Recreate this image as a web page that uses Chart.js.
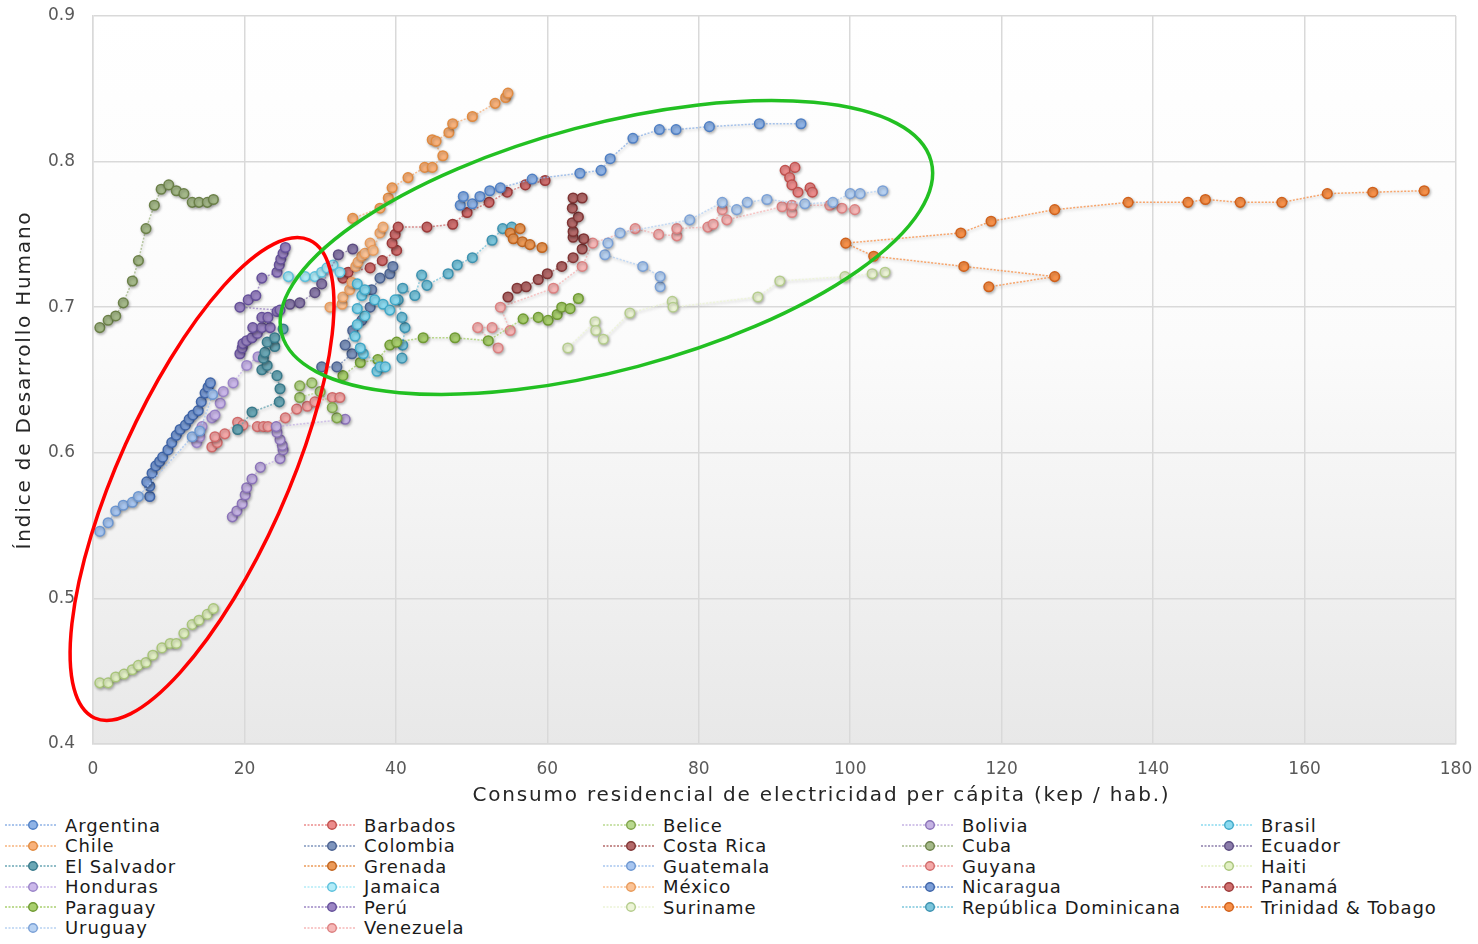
<!DOCTYPE html>
<html>
<head>
<meta charset="utf-8">
<script src="https://cdn.jsdelivr.net/npm/chart.js@4.4.1/dist/chart.umd.min.js"></script>
<style>
  html,body{margin:0;padding:0;background:#fff;}
  #wrap{position:relative;width:1478px;height:944px;overflow:hidden;font-family:"DejaVu Sans",sans-serif;}
  #c{position:absolute;left:0;top:0;}
  #legend{position:absolute;left:5px;top:815px;display:grid;grid-template-columns:repeat(5,299px);grid-auto-rows:20.5px;}
  .lg-item{display:flex;align-items:center;font-size:18px;letter-spacing:0.9px;color:#1a1a1a;white-space:nowrap;}
  .lg-item svg{margin-right:8px;flex:none;}
</style>
</head>
<body>
<div id="wrap">
  <canvas id="c" width="1478" height="810"></canvas>
  <div id="legend"></div>
</div>
<script>
// ---- data (x: kep / hab., y: IDH) ----
const countries = ['Argentina','Barbados','Belice','Bolivia','Brasil','Chile','Colombia','Costa Rica','Cuba','Ecuador',
  'El Salvador','Grenada','Guatemala','Guyana','Haiti','Honduras','Jamaica','México','Nicaragua','Panamá',
  'Paraguay','Perú','Suriname','República Dominicana','Trinidad & Tobago','Uruguay','Venezuela'];

const xTicks = [0,20,40,60,80,100,120,140,160,180];
const yTicks = [0.4,0.5,0.6,0.7,0.8,0.9];
const xTitle = 'Consumo residencial de electricidad per cápita (kep / hab.)';
const yTitle = 'Índice de Desarrollo Humano';

const argentina = [[48.5,0.770],[48.9,0.776],[50.1,0.771],[51.1,0.776],[52.4,0.780],[53.8,0.782],[58.0,0.788],[64.3,0.792],
  [67.1,0.794],[68.3,0.802],[71.3,0.816],[74.8,0.822],[77.0,0.822],[81.4,0.824],[88.0,0.826],[93.5,0.826]];
const barbados = [[91.4,0.794],[92.7,0.796],[92.0,0.789],[92.3,0.784],[93.1,0.779],[94.7,0.782],[95.0,0.779]];
const belice = [[32.2,0.624],[31.6,0.631],[30.0,0.642],[27.3,0.638],[27.3,0.646],[28.9,0.648]];
const bolivia = [[18.4,0.556],[19.0,0.560],[19.7,0.565],[20.1,0.571],[20.3,0.576],[21.0,0.582],[22.1,0.590],[24.7,0.596],
  [25.1,0.602],[25.0,0.605],[24.7,0.609],[24.3,0.614],[24.2,0.618],[33.3,0.623]];
const brasil = [[37.5,0.656],[37.9,0.659],[38.6,0.659],[35.7,0.668],[35.3,0.672],[34.6,0.680],[34.9,0.688],[35.9,0.694],
  [34.9,0.699],[35.5,0.708],[34.9,0.716],[35.9,0.712],[37.2,0.705],[38.3,0.702],[39.2,0.698],[39.9,0.705]];
const chile = [[34.3,0.761],[37.9,0.768],[39.0,0.775],[39.5,0.782],[41.6,0.789],[43.8,0.796],[44.8,0.796],[46.2,0.804],
  [44.8,0.815],[45.3,0.814],[47.0,0.820],[47.5,0.826],[50.1,0.831],[53.1,0.840],[54.5,0.844],[54.8,0.847]];
const colombia = [[30.2,0.659],[32.2,0.659],[34.2,0.668],[33.3,0.674],[34.3,0.684],[35.5,0.691],[36.6,0.700],[36.8,0.712],
  [37.9,0.720],[39.2,0.723],[39.6,0.728]];
const costaRica = [[54.8,0.707],[56.0,0.713],[57.2,0.714],[58.8,0.719],[60.0,0.723],[61.9,0.728],[63.4,0.734],[64.6,0.740],
  [64.8,0.747],[63.4,0.748],[63.4,0.752],[63.3,0.758],[64.1,0.762],[63.3,0.768],[63.4,0.775],[64.6,0.775]];
const cuba = [[0.9,0.686],[2.0,0.691],[3.0,0.694],[4.0,0.703],[5.2,0.718],[6.0,0.732],[7.0,0.754],[8.1,0.770],
  [9.0,0.781],[10.0,0.784],[11.0,0.780],[12.0,0.778],[13.1,0.772],[14.0,0.772],[15.1,0.772],[15.9,0.774]];
const ecuador = [[26.0,0.702],[27.3,0.703],[29.3,0.710],[30.2,0.716],[32.4,0.736],[34.3,0.740]];
const elSalvador = [[19.1,0.616],[21.0,0.628],[24.6,0.635],[24.7,0.644],[24.3,0.653],[22.3,0.657],[23.0,0.660],[22.5,0.665],
  [22.7,0.669],[24.0,0.673],[23.0,0.676],[24.0,0.679],[25.1,0.685]];
const grenada = [[55.1,0.751],[56.4,0.754],[55.5,0.747],[56.7,0.745],[57.7,0.743],[59.3,0.741]];
const guatemala = [[0.9,0.546],[2.0,0.552],[3.0,0.560],[4.0,0.564],[5.2,0.566],[6.0,0.570],[13.1,0.611],[14.1,0.615],[15.8,0.640]];
const guyana = [[15.7,0.604],[16.4,0.607],[16.1,0.611],[17.4,0.613],[19.1,0.621],[19.8,0.619],[21.7,0.618],[22.5,0.618],
  [23.1,0.618],[25.4,0.624],[26.9,0.630],[28.3,0.632],[29.3,0.635],[31.6,0.638],[32.6,0.638]];
const haiti = [[0.9,0.442],[2.0,0.442],[3.0,0.446],[4.1,0.448],[5.2,0.451],[6.0,0.454],[7.0,0.456],[7.9,0.461],
  [9.1,0.466],[10.2,0.469],[11.0,0.469],[12.0,0.476],[13.1,0.482],[14.0,0.485],[15.1,0.489],[15.9,0.493]];
const honduras = [[13.7,0.607],[14.1,0.611],[14.4,0.618],[15.7,0.624],[16.1,0.626],[16.8,0.634],[17.2,0.642],[18.5,0.648],
  [20.3,0.660],[21.8,0.666]];
const jamaica = [[25.8,0.721],[28.0,0.721],[29.3,0.721],[30.2,0.724],[30.9,0.727],[31.7,0.729],[32.6,0.724]];
const mexico = [[31.3,0.700],[32.9,0.702],[33.0,0.707],[33.9,0.712],[34.2,0.717],[34.7,0.728],[35.0,0.731],[35.5,0.735],
  [35.9,0.737],[36.6,0.744],[37.0,0.739],[37.9,0.751],[38.3,0.755]];
const nicaragua = [[7.5,0.570],[7.5,0.577],[7.1,0.580],[7.8,0.586],[8.3,0.591],[8.8,0.594],[9.2,0.597],[9.9,0.602],
  [10.4,0.607],[11.0,0.612],[11.5,0.616],[12.2,0.619],[12.7,0.623],[13.2,0.626],[13.9,0.629],[14.3,0.635],
  [14.8,0.641],[15.2,0.645],[15.5,0.648]];
const panama = [[33.0,0.720],[33.7,0.724],[36.6,0.727],[38.2,0.732],[40.1,0.739],[39.5,0.744],[39.9,0.750],[40.3,0.755],
  [44.1,0.755],[47.5,0.757],[49.4,0.765],[52.3,0.772],[54.7,0.779],[57.1,0.784],[59.7,0.787]];
const paraguay = [[33.0,0.653],[35.3,0.662],[37.6,0.664],[39.2,0.674],[40.1,0.676],[43.6,0.679],[47.8,0.679],[52.2,0.677],
  [56.8,0.692],[58.8,0.693],[60.1,0.691],[61.3,0.695],[61.9,0.700],[63.0,0.699],[64.1,0.706]];
const peru = [[19.4,0.668],[19.7,0.672],[19.8,0.675],[20.3,0.677],[21.0,0.679],[21.7,0.682],[21.1,0.686],[22.3,0.686],
  [23.4,0.686],[22.3,0.693],[23.1,0.693],[24.3,0.697],[24.7,0.698],[19.4,0.700],[20.5,0.705],[21.5,0.708],
  [22.3,0.720],[24.3,0.724],[24.6,0.729],[24.8,0.733],[25.1,0.737],[25.4,0.741]];
const suriname = [[62.7,0.672],[66.3,0.690],[66.4,0.684],[67.4,0.678],[70.9,0.696],[76.5,0.704],[76.6,0.700],
  [87.8,0.707],[90.7,0.718],[99.3,0.721],[102.9,0.723],[104.6,0.724]];
const repDominicana = [[40.8,0.665],[40.9,0.674],[41.2,0.686],[40.8,0.693],[40.3,0.705],[40.9,0.713],[42.5,0.708],[43.4,0.722],
  [44.1,0.715],[46.9,0.723],[48.1,0.729],[50.1,0.734],[52.7,0.746],[54.1,0.754],[55.3,0.755]];
const trinidad = [[118.3,0.714],[127.0,0.721],[115.0,0.728],[103.1,0.735],[99.4,0.744],[114.6,0.751],[118.6,0.759],[127.0,0.767],
  [136.7,0.772],[144.6,0.772],[146.9,0.774],[151.5,0.772],[157.0,0.772],[163.0,0.778],[169.0,0.779],[175.8,0.780]];
const uruguay = [[74.9,0.714],[74.9,0.721],[72.6,0.728],[67.6,0.736],[68.0,0.744],[69.6,0.751],[78.8,0.760],[83.1,0.772],
  [85.0,0.767],[86.4,0.772],[89.0,0.774],[94.0,0.771],[97.7,0.772],[100.0,0.778],[101.3,0.778],[104.3,0.780]];
const venezuela = [[53.5,0.672],[50.8,0.686],[52.7,0.686],[55.1,0.684],[53.8,0.700],[60.8,0.713],[64.6,0.728],[66.0,0.744],
  [71.6,0.754],[74.7,0.750],[77.1,0.749],[77.1,0.754],[81.2,0.755],[81.9,0.757],[83.1,0.767],[83.7,0.760],
  [91.0,0.769],[92.3,0.765],[92.3,0.770],[97.3,0.770],[98.9,0.768],[100.6,0.767]];

const seriesData = [argentina, barbados, belice, bolivia, brasil, chile, colombia, costaRica, cuba, ecuador,
  elSalvador, grenada, guatemala, guyana, haiti, honduras, jamaica, mexico, nicaragua, panama,
  paraguay, peru, suriname, repDominicana, trinidad, uruguay, venezuela];

// fill / border per series, same order as countries
const fills = ['#8fb3e6','#ec8c8c','#b9d98f','#c5b3e3','#8bdaf0','#f8b27c','#7f95bd','#b46a6a','#a5b98a','#8c7dab',
  '#6ba7b5','#ec9a58','#a8c6f0','#f4a8a8','#e2f0c4','#cbb8ea','#b2ecf8','#fbc396','#7d9fd8','#d07070',
  '#a9cf6f','#9c86c4','#ecf4d6','#7cc6dc','#f7914a','#b8d2f2','#f6b8b8'];
const borders = ['#4f7fc4','#c0504d','#7fa34a','#8a72b8','#3fa8c8','#e08a40','#4a6190','#7f3434','#6b8048','#5c4c80',
  '#37798a','#c0641e','#6c96d0','#d06a6a','#a8c47a','#9a84c8','#5cc0dc','#e89a5a','#3e64a8','#9c3a3a',
  '#6f9a32','#65509a','#b4cc8c','#3c92b0','#d0601a','#7aa0d6','#dc8080'];

// annotation ellipses (centre in data units, radii in px)
const ellipses = [
  {cx:14.4, cy:0.582, rx:262, ry:84, angle:-65.8, color:'#ff0000'},
  {cx:67.8, cy:0.741, rx:336, ry:123, angle:-14.9, color:'#22c022'}
];

const FONT = '"DejaVu Sans", sans-serif';

const bgPlugin = {
  id:'plotBg',
  beforeDraw(chart){
    const {ctx, chartArea:a} = chart;
    const g = ctx.createLinearGradient(0, a.top, 0, a.bottom);
    g.addColorStop(0, '#ffffff');
    g.addColorStop(0.45, '#fbfbfb');
    g.addColorStop(1, '#e8e8e8');
    ctx.save();
    ctx.fillStyle = g;
    ctx.fillRect(a.left, a.top, a.right - a.left, a.bottom - a.top);
    ctx.restore();
  }
};

const shadowPlugin = {
  id:'markShadow',
  beforeDatasetsDraw(chart){
    const ctx = chart.ctx;
    ctx.save();
    ctx.shadowColor = 'rgba(0,0,0,0.28)';
    ctx.shadowBlur = 3;
    ctx.shadowOffsetX = 1;
    ctx.shadowOffsetY = 1.5;
  },
  afterDatasetsDraw(chart){
    chart.ctx.restore();
  }
};

const ellipsePlugin = {
  id:'ellipses',
  afterDatasetsDraw(chart){
    const ctx = chart.ctx;
    const xs = chart.scales.x, ys = chart.scales.y;
    ellipses.forEach(e=>{
      ctx.save();
      ctx.beginPath();
      ctx.ellipse(xs.getPixelForValue(e.cx), ys.getPixelForValue(e.cy), e.rx, e.ry, e.angle*Math.PI/180, 0, Math.PI*2);
      ctx.strokeStyle = e.color;
      ctx.lineWidth = 3.5;
      ctx.stroke();
      ctx.restore();
    });
  }
};

// axis titles, drawn with letter spacing to get the wide look of the original
const titlePlugin = {
  id:'axisTitles',
  afterDraw(chart){
    const {ctx, chartArea:a} = chart;
    ctx.save();
    ctx.fillStyle = '#262626';
    ctx.font = '20px ' + FONT;
    ctx.letterSpacing = '1.8px';
    ctx.textAlign = 'center';
    ctx.textBaseline = 'middle';
    // the original title sits a bit right of the plot centre
    ctx.fillText(xTitle, (a.left + a.right)/2 + 47, 796);
    ctx.translate(25, (a.top + a.bottom)/2);
    ctx.rotate(-Math.PI/2);
    ctx.fillText(yTitle, 0, 0);
    ctx.restore();
  }
};

const datasets = countries.map((name,i)=>({
  label: name,
  data: seriesData[i].map(p=>({x:p[0], y:p[1]})),
  showLine: true,
  borderColor: fills[i] + 'cc',
  borderWidth: 1.5,
  borderDash: [2,1.5],
  pointRadius: 4.8,
  pointBackgroundColor: fills[i],
  pointBorderColor: borders[i],
  pointBorderWidth: 1.5,
  tension: 0
}));

new Chart(document.getElementById('c'), {
  type: 'scatter',
  data: { datasets },
  options: {
    responsive: false,
    animation: false,
    devicePixelRatio: 1,
    layout: { padding: { top: 16, right: 22, left: 0, bottom: 0 } },
    plugins: { legend: { display: false }, tooltip: { enabled: false } },
    scales: {
      x: {
        type: 'linear', min: 0, max: 180,
        afterBuildTicks: s => { s.ticks = xTicks.map(v=>({value:v})); },
        afterFit: s => { s.height = 66; s.paddingLeft = 0; s.paddingRight = 0; },
        grid: { color: '#d9d9d9', lineWidth: 1.5, drawTicks: false },
        border: { color: '#d9d9d9', width: 1.5 },
        ticks: { padding: 15, color: '#595959', font: { family: FONT, size: 17 } },
        title: { display: false }
      },
      y: {
        type: 'linear', min: 0.4, max: 0.9,
        afterBuildTicks: s => { s.ticks = yTicks.map(v=>({value:v})); },
        afterFit: s => { s.width = 93; s.paddingTop = 0; s.paddingBottom = 0; },
        grid: { color: '#d9d9d9', lineWidth: 1.5, drawTicks: false },
        border: { color: '#d9d9d9', width: 1.5 },
        ticks: { padding: 18, color: '#595959', font: { family: FONT, size: 17 }, callback: v => v.toFixed(1) },
        title: { display: false }
      }
    }
  },
  plugins: [bgPlugin, shadowPlugin, ellipsePlugin, titlePlugin]
});

// legend, 5 columns in the same row-major order as the reference
const legend = document.getElementById('legend');
countries.forEach((name,i)=>{
  const item = document.createElement('div');
  item.className = 'lg-item';
  const svg = '<svg width="52" height="14" viewBox="0 0 52 14">' +
    '<line x1="0" y1="7" x2="52" y2="7" stroke="' + fills[i] + '" stroke-width="1.5" stroke-dasharray="2 1.5"/>' +
    '<circle cx="28" cy="7" r="4.3" fill="' + fills[i] + '" stroke="' + borders[i] + '" stroke-width="1.4"/></svg>';
  item.innerHTML = svg + '<span></span>';
  item.querySelector('span').textContent = name;
  legend.appendChild(item);
});
</script>
</body>
</html>
